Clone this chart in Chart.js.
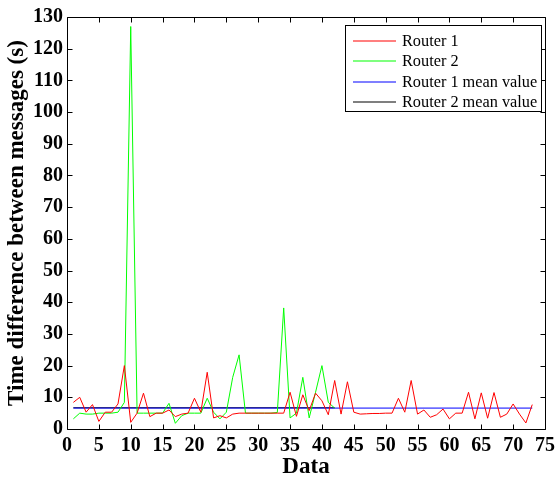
<!DOCTYPE html>
<html>
<head>
<meta charset="utf-8">
<script src="https://cdn.jsdelivr.net/npm/chart.js@4.4.0/dist/chart.umd.min.js"></script>
<style>
html,body{margin:0;padding:0;background:#fff;}
#wrap{width:560px;height:477px;position:relative;}
</style>
</head>
<body>
<div id="wrap"><canvas id="c" width="560" height="477"></canvas></div>
<script>
// ---- data ----
const router1 = [8.4,10,5.3,7.7,2.4,5.3,5.3,7.9,20,2.1,5,11.3,3.9,5,5,6,3.9,4.7,5,9.7,
  5.3,17.9,3.5,4.2,3.5,4.7,5,5,5,5,5,5,5,5,11.6,4,10.8,5.8,11.3,8.9,
  4.5,15.3,4.7,14.9,5.3,4.7,4.8,4.9,4.9,5,5,9.7,5.3,15.3,4.7,6,3.7,4.5,6.3,3.2,
  5,5,11.6,3.2,11.4,3.4,11.5,3.7,4.7,7.9,4.7,1.9,7.7];
const router2 = [3.2,5,4.7,4.7,5,5,5,5.3,8.4,127,5,5,5,5,5,8.1,1.8,4.2,5,5,
  5,9.7,5.3,3.2,5.3,16.3,23.4,5,5,5,5,5,5.2,38.2,3.5,5,16.3,3.5,11.6,20,8.4,6.6];
const router1Mean = 6.6;
const router2Mean = 6.7;
const seriesNames = ["Router 1","Router 2","Router 1 mean value","Router 2 mean value"];
const xTicks = [0,5,10,15,20,25,30,35,40,45,50,55,60,65,70,75];
const yTicks = [0,10,20,30,40,50,60,70,80,90,100,110,120,130];

const pts = arr => arr.map((v,i)=>({x:i+1,y:v}));
const meanPts = (m,n) => [{x:1,y:m},{x:n,y:m}];

const FONT = "'Liberation Serif','Times New Roman',serif";

const frame = {
  id:'frame',
  afterDraw(chart){
    const {ctx, chartArea:a, scales:{x,y}} = chart;
    ctx.save();
    ctx.strokeStyle='#000'; ctx.lineWidth=1;
    ctx.beginPath();
    const L=Math.round(a.left)+0.5, R=Math.round(a.right)+0.5, T=Math.round(a.top)+0.5, B=Math.round(a.bottom)+0.5;
    ctx.rect(L,T,R-L,B-T);
    const tl=5;
    xTicks.forEach(v=>{const px=Math.round(x.getPixelForValue(v))+0.5;
      ctx.moveTo(px,B);ctx.lineTo(px,B-tl);ctx.moveTo(px,T);ctx.lineTo(px,T+tl);});
    yTicks.forEach(v=>{const py=Math.round(y.getPixelForValue(v))+0.5;
      ctx.moveTo(L,py);ctx.lineTo(L+tl,py);ctx.moveTo(R,py);ctx.lineTo(R-tl,py);});
    ctx.stroke();
    // legend
    const bx=345.5, by=25.5, bw=196, bh=86;
    ctx.fillStyle='#fff'; ctx.fillRect(bx,by,bw,bh);
    ctx.strokeStyle='#000'; ctx.strokeRect(bx,by,bw,bh);
    ctx.font="16.3px "+FONT; ctx.textBaseline='middle'; ctx.textAlign='left';
    chart.data.datasets.forEach((ds,i)=>{
      const yy=Math.round(by+15+i*20.5);
      ctx.strokeStyle=ds.borderColor; ctx.lineWidth=1.2;
      ctx.beginPath(); ctx.moveTo(353,yy); ctx.lineTo(396,yy); ctx.stroke();
      ctx.fillStyle='#000'; ctx.fillText(ds.label,402,yy+1);
    });
    ctx.restore();
  }
};

new Chart(document.getElementById('c'),{
  type:'line',
  data:{datasets:[
    {label:seriesNames[0],data:pts(router1),borderColor:'#ff0000',borderWidth:1,pointRadius:0,tension:0},
    {label:seriesNames[1],data:pts(router2),borderColor:'#00ff00',borderWidth:1,pointRadius:0,tension:0},
    {label:seriesNames[2],data:meanPts(router1Mean,router1.length),borderColor:'#0000ff',borderWidth:1,pointRadius:0},
    {label:seriesNames[3],data:meanPts(router2Mean,router2.length),borderColor:'#000000',borderWidth:1,pointRadius:0},
  ]},
  options:{
    responsive:false,animation:false,devicePixelRatio:1,
    layout:{padding:{top:17,right:13,left:0,bottom:0}},
    plugins:{legend:{display:false},tooltip:{enabled:false}},
    scales:{
      x:{type:'linear',min:0,max:75,
        afterBuildTicks(s){s.ticks=xTicks.map(v=>({value:v}));},
        afterFit(s){s.height=48;},
        grid:{display:false,drawTicks:false},border:{display:false},
        ticks:{color:'#000',padding:5,maxRotation:0,font:{family:FONT,size:20,weight:'bold',lineHeight:1.2}},
        title:{display:true,text:'Data',color:'#000',padding:{top:0,bottom:-2},font:{family:FONT,size:23,weight:'bold',lineHeight:1}}},
      y:{min:0,max:130,
        afterBuildTicks(s){s.ticks=yTicks.map(v=>({value:v}));},
        afterFit(s){s.width=67;},
        grid:{display:false,drawTicks:false},border:{display:false},
        ticks:{color:'#000',padding:4,font:{family:FONT,size:20,weight:'bold'}},
        title:{display:true,text:'Time difference between messages (s)',color:'#000',padding:{top:6,bottom:6},font:{family:FONT,size:23,weight:'bold',lineHeight:1}}}
    }
  },
  plugins:[frame]
});
</script>
</body>
</html>
